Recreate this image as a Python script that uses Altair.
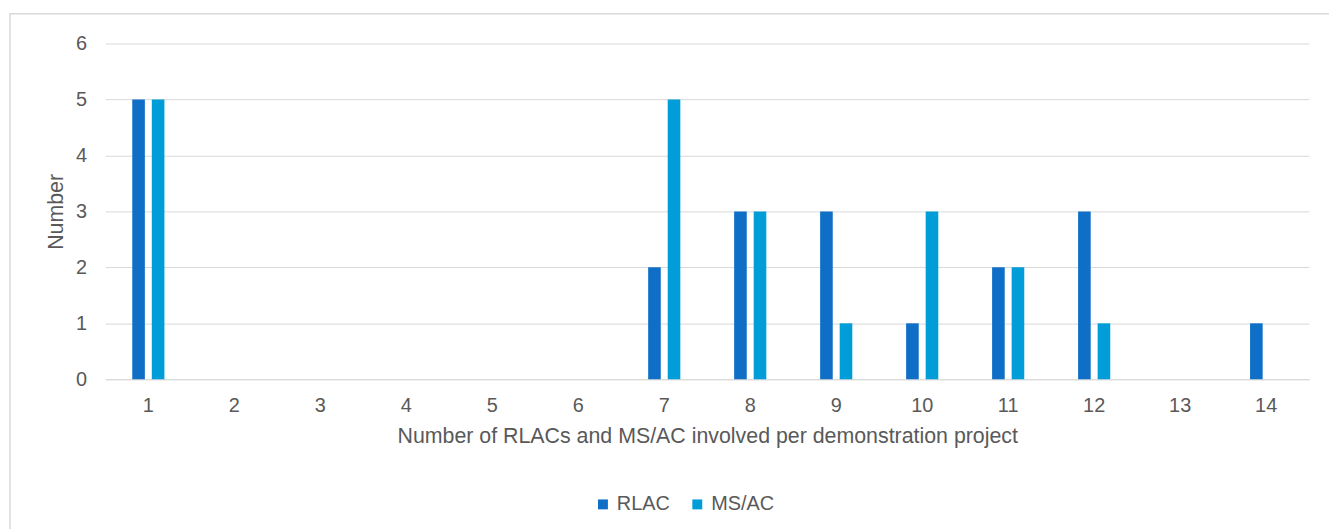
import altair as alt
import pandas as pd

categories = [str(i) for i in range(1, 15)]
rlac = [5, 0, 0, 0, 0, 0, 2, 3, 3, 1, 2, 3, 0, 1]
msac = [5, 0, 0, 0, 0, 0, 5, 3, 1, 3, 2, 1, 0, 0]
series = ["RLAC", "MS/AC"]
colors = ["#0F6FC6", "#009DD9"]
y_ticks = [0, 1, 2, 3, 4, 5, 6]

rows = []
for c, a, b in zip(categories, rlac, msac):
    rows.append({"cat": c, "series": "RLAC", "value": a})
    rows.append({"cat": c, "series": "MS/AC", "value": b})
df = pd.DataFrame(rows)

FONT = "Liberation Sans"
TXT = "#595959"
FS = 20
TFS = 21.5

bars = alt.Chart(df).mark_bar().encode(
    x=alt.X("cat:N", sort=categories,
            scale=alt.Scale(paddingInner=0.5, paddingOuter=0.25),
            axis=alt.Axis(title="Number of RLACs and MS/AC involved per demonstration project",
                          labelAngle=0, ticks=False, domain=True, domainColor="#D9D9D9",
                          labelPadding=16, titleY=64, titleBaseline="alphabetic",
                          grid=False)),
    xOffset=alt.XOffset("series:N", sort=series,
                        scale=alt.Scale(paddingInner=0.355, paddingOuter=0.277)),
    y=alt.Y("value:Q", scale=alt.Scale(domain=[0, 6], nice=False),
            axis=alt.Axis(title="Number", values=y_ticks, ticks=False, domain=False,
                          labelPadding=19, gridColor="#D9D9D9", gridWidth=1,
                          titleX=-43, titleBaseline="alphabetic")),
    color=alt.Color("series:N", sort=series,
                    scale=alt.Scale(domain=series, range=colors),
                    legend=alt.Legend(title=None, orient="none", legendX=491, legendY=454,
                                      direction="horizontal", symbolType="square",
                                      symbolSize=100, symbolStrokeWidth=0,
                                      labelOffset=4, columnPadding=17,
                                      labelFontSize=FS, labelColor=TXT, labelFont=FONT)),
)

border = alt.Chart(alt.Data(values=[{}])).mark_rect(
    fill=None, stroke="#D9D9D9", strokeWidth=1.5
).encode(
    x=alt.value(-96), x2=alt.value(1300), y=alt.value(-30), y2=alt.value(560)
)

chart = alt.layer(border, bars).properties(
    width=1212, height=338,
    background="white",
    autosize=alt.AutoSizeParams(type="none"),
    padding={"left": 98, "top": 34, "right": 20, "bottom": 150},
).configure_view(stroke=None).configure_axis(
    labelFont=FONT, titleFont=FONT, labelFontSize=FS, titleFontSize=TFS,
    labelColor=TXT, titleColor=TXT, titleFontWeight="normal"
)

chart.save("out.html", embed_options={"renderer": "svg", "actions": False})
